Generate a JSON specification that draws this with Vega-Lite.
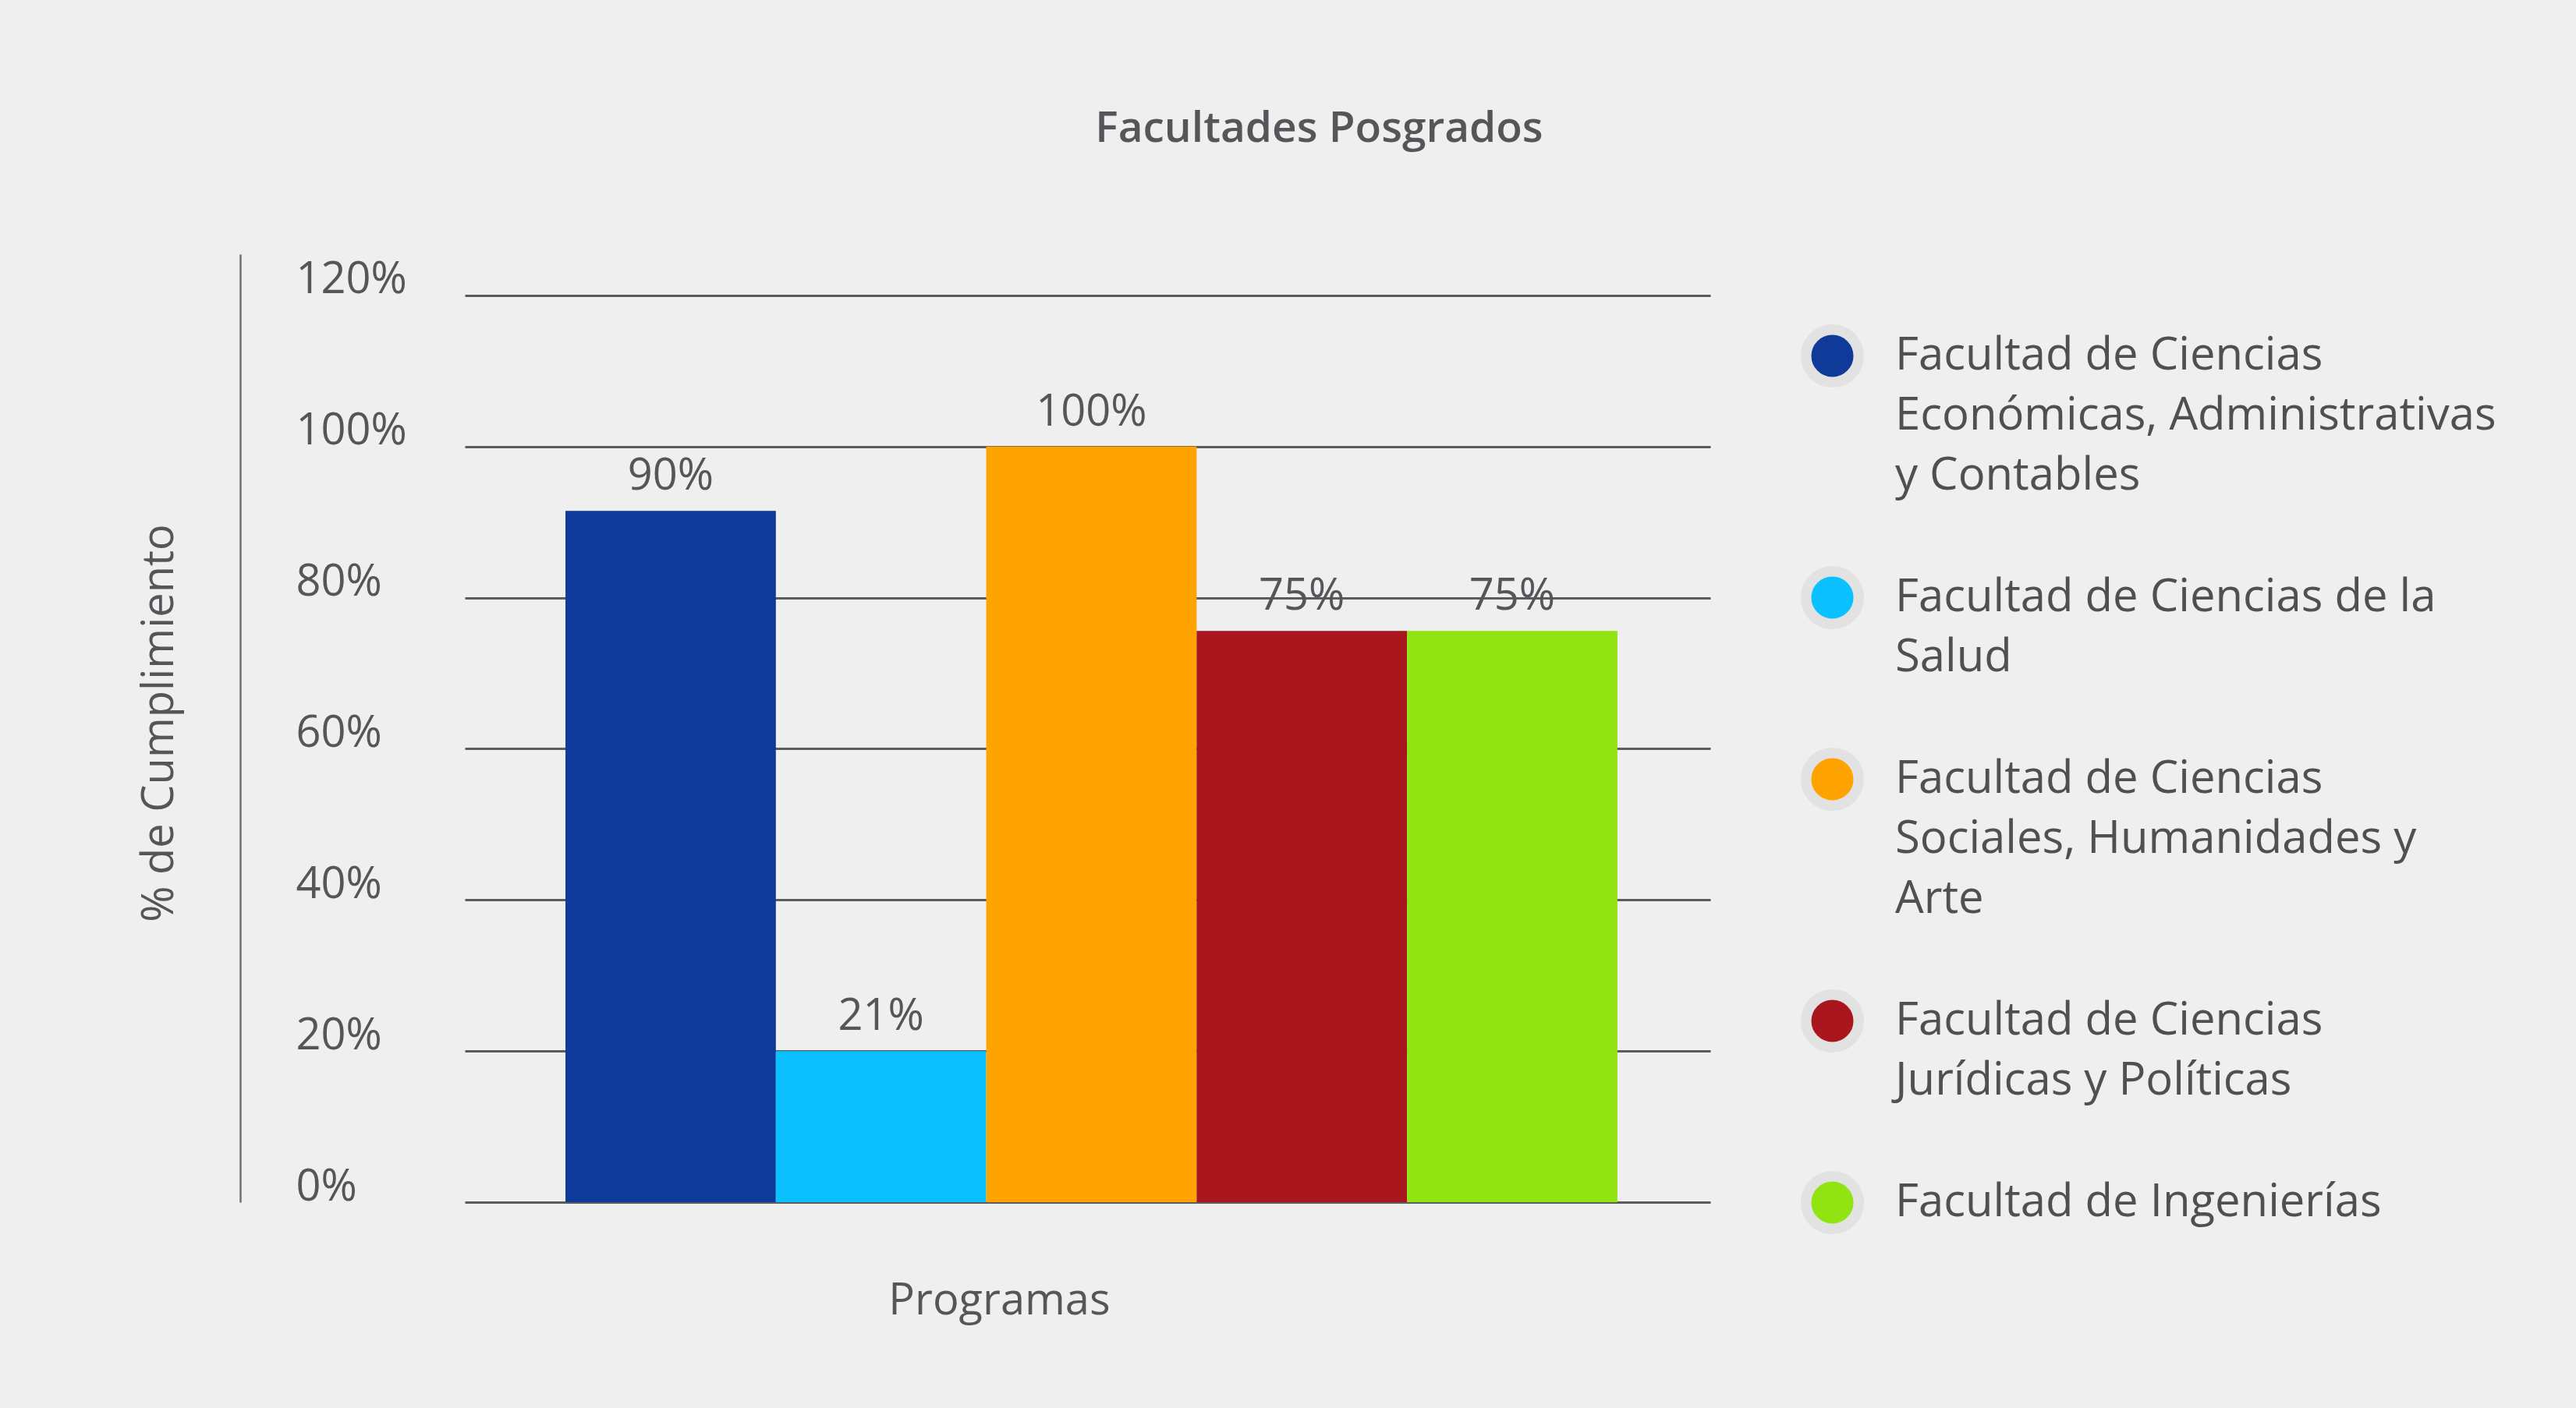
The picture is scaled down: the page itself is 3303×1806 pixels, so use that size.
{
  "$schema": "https://vega.github.io/schema/vega-lite/v6.json",
  "autosize": {"type": "none"},
  "padding": {"left": 596, "top": 326, "right": 1110, "bottom": 264},
  "width": 1597,
  "height": 1216,
  "background": "#EEEFEE",
  "title": {
    "text": "Facultades Posgrados",
    "anchor": "middle",
    "frame": "group",
    "dx": 297,
    "offset": 132,
    "font": "Open Sans",
    "fontSize": 55,
    "fontWeight": 600,
    "color": "#56565A"
  },
  "data": {
    "values": [
      {"facultad": "Facultad de Ciencias Económicas, Administrativas y Contables", "valor": 0.915, "etiqueta": "90%"},
      {"facultad": "Facultad de Ciencias de la Salud", "valor": 0.2, "etiqueta": "21%"},
      {"facultad": "Facultad de Ciencias Sociales, Humanidades y Arte", "valor": 1.0, "etiqueta": "100%"},
      {"facultad": "Facultad de Ciencias Jurídicas y Políticas", "valor": 0.756, "etiqueta": "75%"},
      {"facultad": "Facultad de Ingenierías", "valor": 0.756, "etiqueta": "75%"}
    ]
  },
  "encoding": {
    "x": {
      "field": "facultad",
      "type": "nominal",
      "sort": null,
      "scale": {"paddingInner": 0, "paddingOuter": 0.46, "align": 0.52},
      "axis": {
        "labels": false,
        "ticks": false,
        "domain": false,
        "title": "Programas",
        "titleFont": "Open Sans",
        "titleFontSize": 56,
        "titleFontWeight": "normal",
        "titleColor": "#56565A",
        "titleX": 685,
        "titleY": 126,
        "titleAlign": "center",
        "titleBaseline": "middle"
      }
    },
    "y": {
      "field": "valor",
      "type": "quantitative",
      "scale": {"domain": [0, 1.2546], "nice": false, "zero": true},
      "axis": {
        "values": [0, 0.2, 0.4, 0.6, 0.8, 1.0, 1.2],
        "format": ".0%",
        "offset": 288,
        "domainColor": "#6F7073",
        "domainWidth": 2.5,
        "grid": true,
        "gridColor": "#5B5C5F",
        "gridWidth": 3,
        "ticks": false,
        "tickSize": 0,
        "labelFont": "Open Sans",
        "labelFontSize": 56,
        "labelColor": "#56565A",
        "labelAlign": "left",
        "labelBaseline": "middle",
        "labelPadding": -71,
        "labelOffset": -20,
        "title": "% de Cumplimiento",
        "titleFont": "Open Sans",
        "titleFontSize": 56,
        "titleFontWeight": "normal",
        "titleColor": "#56565A",
        "titleX": -104,
        "titleY": 601,
        "titleAngle": 270,
        "titleAlign": "center",
        "titleBaseline": "middle"
      }
    }
  },
  "layer": [
    {
      "mark": {"type": "bar"},
      "encoding": {
        "color": {
          "field": "facultad",
          "type": "nominal",
          "sort": null,
          "scale": {
            "domain": [
              "Facultad de Ciencias Económicas, Administrativas y Contables",
              "Facultad de Ciencias de la Salud",
              "Facultad de Ciencias Sociales, Humanidades y Arte",
              "Facultad de Ciencias Jurídicas y Políticas",
              "Facultad de Ingenierías"
            ],
            "range": ["#0F3A9A", "#0BC0FE", "#FFA300", "#AA161E", "#91E311"]
          },
          "legend": {
            "orient": "none",
            "legendX": 1713,
            "legendY": 90,
            "title": null,
            "padding": 0,
            "symbolType": "circle",
            "symbolSize": 4556,
            "symbolStrokeWidth": 13.5,
            "symbolStrokeColor": "#E1E2E1",
            "labelFont": "Open Sans",
            "labelFontSize": 58,
            "labelColor": "#505053",
            "labelOffset": 40,
            "labelLimit": 3000,
            "rowPadding": 65,
            "labelExpr": "datum.value == 'Facultad de Ciencias Económicas, Administrativas y Contables' ? ['Facultad de Ciencias', 'Económicas, Administrativas', 'y Contables'] : datum.value == 'Facultad de Ciencias de la Salud' ? ['Facultad de Ciencias de la', 'Salud'] : datum.value == 'Facultad de Ciencias Sociales, Humanidades y Arte' ? ['Facultad de Ciencias', 'Sociales, Humanidades y', 'Arte'] : datum.value == 'Facultad de Ciencias Jurídicas y Políticas' ? ['Facultad de Ciencias', 'Jurídicas y Políticas'] : datum.label",
            "encode": {
              "labels": {"update": {"lineHeight": {"value": 77}}},
              "symbols": {"update": {"stroke": {"value": "#E1E2E1"}, "strokeWidth": {"value": 13.5}}}
            }
          }
        }
      }
    },
    {
      "mark": {
        "type": "text",
        "baseline": "middle",
        "align": "center",
        "dy": -44,
        "font": "Open Sans",
        "fontSize": 56,
        "color": "#56565A"
      },
      "encoding": {
        "text": {"field": "etiqueta", "type": "nominal"}
      }
    }
  ],
  "config": {
    "view": {"stroke": null}
  }
}
